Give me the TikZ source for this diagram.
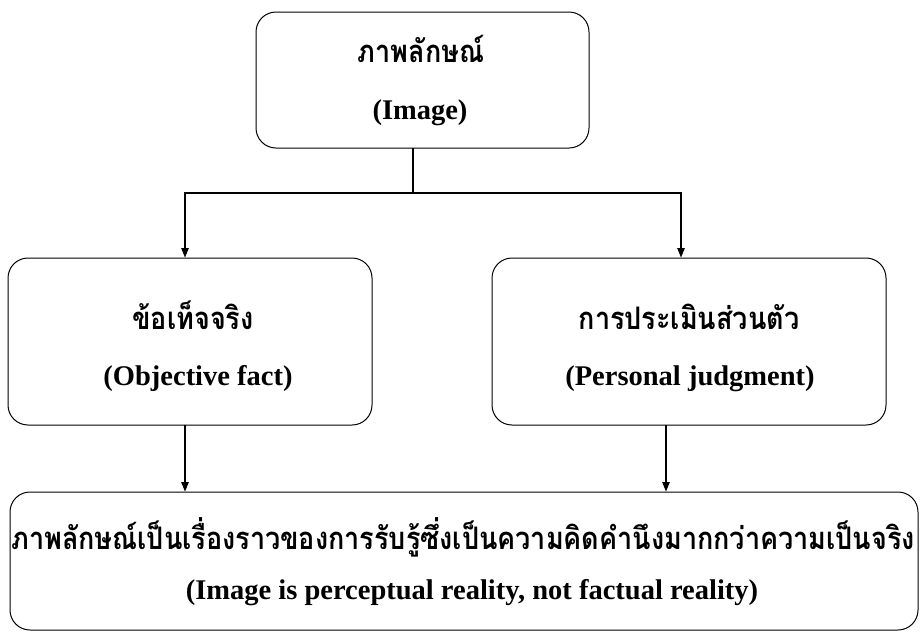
\documentclass[tikz,border=0pt]{standalone}
\usepackage{fontspec}
\setmainfont{Liberation Serif}
\newfontfamily\thaifont[Script=Thai]{Loma}
\usetikzlibrary{arrows.meta}
\newcommand{\thtext}[1]{\scalebox{1}[1.15]{#1}}
\begin{document}
\begin{tikzpicture}[x=1pt,y=-1pt,
  box/.style={draw=black,line width=1pt,rounded corners=20pt},
  conn/.style={draw=black,line width=2.4pt},
  arr/.style={conn,-{Triangle[length=10pt,width=7pt]}},
  th/.style={anchor=base,inner sep=0pt,font=\thaifont\bfseries\fontsize{27}{30}\selectfont},
  en/.style={anchor=base,inner sep=0pt,font=\bfseries\fontsize{28.5}{32}\selectfont}]
\useasboundingbox (0,0) rectangle (923,633);
% boxes
\draw[box] (256,12) rectangle (589,148);
\draw[box] (8,258) rectangle (372,425);
\draw[box] (492,258) rectangle (886,425);
\draw[box] (10,492) rectangle (918,630);
\node[th] (t1) at (421,62) {\thtext{ภาพลักษณ์}};
\node[en] (t2) at (420,119) {(Image)};
\node[th] (l1) at (193,329) {\thtext{ข้อเท็จจริง}};
\node[en] (l2) at (198,385) {(Objective fact)};
\node[th] (r1) at (689,329) {\thtext{การประเมินส่วนตัว}};
\node[en] (r2) at (690,385) {(Personal judgment)};
\node[th] (b1) at (463,549) {\thtext{ภาพลักษณ์เป็นเรื่องราวของการรับรู้ซึ่งเป็นความคิดคำนึงมากกว่าความเป็นจริง}};
\node[en] (b2) at (472,599) {(Image is perceptual reality, not factual reality)};
% connectors
\coordinate (s0) at (413,148);
\coordinate (s1) at (413,193);
\coordinate (sl) at (185,193);
\coordinate (sr) at (681,193);
\coordinate (lt) at (185,258);
\coordinate (rt) at (681,258);
\coordinate (lb) at (185,425);
\coordinate (rb) at (666,425);
\coordinate (blt) at (185,492);
\coordinate (brt) at (666,492);
\draw[conn] (s0) -- (s1);
\draw[conn,line cap=rect] (sl) -- (sr);
\draw[arr] (sl) -- (lt);
\draw[arr] (sr) -- (rt);
\draw[arr] (lb) -- (blt);
\draw[arr] (rb) -- (brt);
\end{tikzpicture}
\end{document}
